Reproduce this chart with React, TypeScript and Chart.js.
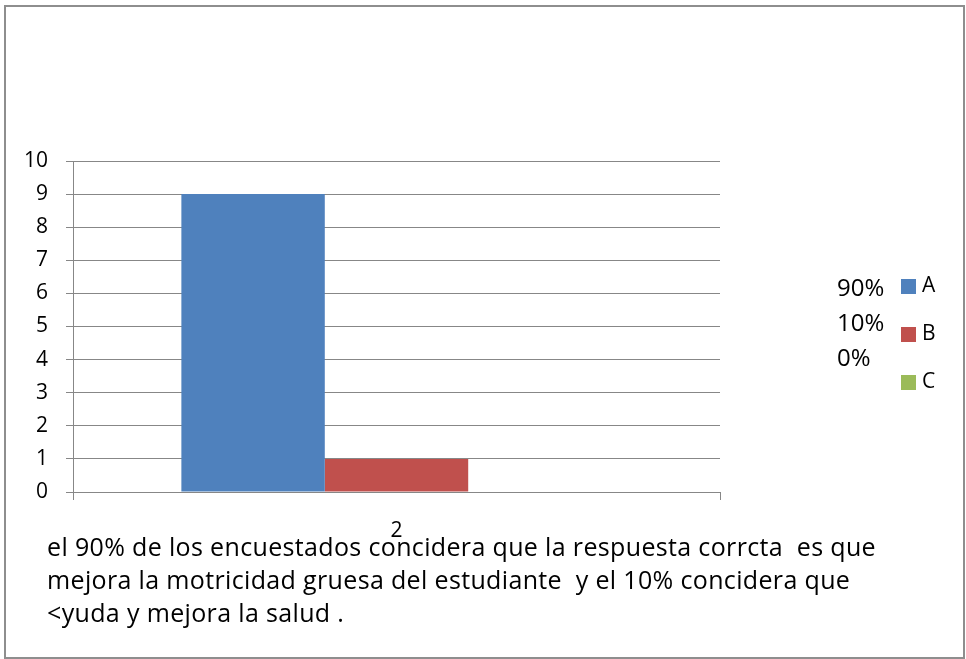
import React, { useEffect, useRef } from "react";
import { Chart, registerables } from "chart.js";
Chart.register(...registerables);

const categories = ["2"];
const seriesNames = ["A", "B", "C"];
const seriesA = [9];
const seriesB = [1];
const seriesC = [0];
const percentLabels = ["90%", "10%", "0%"];
const yMin = 0;
const yMax = 10;
const yStep = 1;
const seriesColors = ["#4F81BD", "#C0504D", "#9BBB59"];
const captionLines = [
  "el 90% de los encuestados concidera que la respuesta corrcta  es que",
  "mejora la motricidad gruesa del estudiante  y el 10% concidera que",
  "<yuda y mejora la salud .",
];

const FONT = "'Open Sans', Lato, sans-serif";
const GRID = "#878787";

const sideLegend = {
  id: "sideLegend",
  afterDraw(chart: any) {
    const ctx = chart.ctx;
    ctx.save();
    ctx.textBaseline = "middle";
    chart.data.datasets.forEach((ds: any, i: number) => {
      const cy = 286 + i * 48;
      ctx.fillStyle = ds.backgroundColor;
      ctx.fillRect(901, cy - 7, 15, 15);
      ctx.fillStyle = "#000";
      ctx.font = `21px ${FONT}`;
      ctx.textAlign = "left";
      ctx.fillText(ds.label, 922, cy);
    });
    ctx.font = `24px ${FONT}`;
    ctx.fillStyle = "#000";
    percentLabels.forEach((t, i) => {
      ctx.fillText(t, 837, 289 + i * 35);
    });
    ctx.restore();
  },
};

export default function App() {
  const ref = useRef<HTMLCanvasElement>(null);
  useEffect(() => {
    if (!ref.current) return;
    const data = [seriesA, seriesB, seriesC];
    const chart = new Chart(ref.current, {
      type: "bar",
      data: {
        labels: categories,
        datasets: seriesNames.map((n, i) => ({
          label: n,
          data: data[i],
          backgroundColor: seriesColors[i],
          borderWidth: 0,
          categoryPercentage: 0.665,
          barPercentage: 1,
        })),
      },
      options: {
        animation: false,
        responsive: true,
        maintainAspectRatio: false,
        layout: { padding: { left: 0, top: 161, right: 246, bottom: 117 } },
        plugins: { legend: { display: false }, tooltip: { enabled: false } },
        scales: {
          x: {
            offset: true,
            grid: { offset: true, drawOnChartArea: false, drawTicks: true, tickLength: 8, color: GRID, lineWidth: 1 },
            border: { display: true, color: GRID, width: 1 },
            ticks: { color: "#000", font: { family: FONT, size: 21 }, padding: 18 },
            afterFit: (s: any) => { s.height = 50; },
          },
          y: {
            min: yMin,
            max: yMax,
            grid: { color: GRID, lineWidth: 1, drawTicks: true, tickLength: 7 },
            border: { display: true, color: GRID, width: 1 },
            ticks: { stepSize: yStep, color: "#000", font: { family: FONT, size: 21 }, padding: 18 },
            afterFit: (s: any) => { s.width = 73; },
          },
        },
      },
      plugins: [sideLegend],
    });
    return () => chart.destroy();
  }, []);

  return (
    <div style={{ position: "absolute", left: 0, top: 0, width: 966, height: 659, background: "#fff" }}>
      <div style={{ position: "absolute", left: 4, top: 5, width: 961, height: 654, boxSizing: "border-box", border: "2px solid #8e8e8e" }} />
      <div style={{ position: "absolute", left: 0, top: 0, width: 966, height: 659 }}>
        <canvas ref={ref} />
      </div>
      <div style={{ position: "absolute", left: 47, top: 530, fontFamily: FONT, fontSize: 25, letterSpacing: "0.35px", lineHeight: "33px", whiteSpace: "pre", color: "#000" }}>
        {captionLines.map((l, i) => (<div key={i}>{l}</div>))}
      </div>
    </div>
  );
}
